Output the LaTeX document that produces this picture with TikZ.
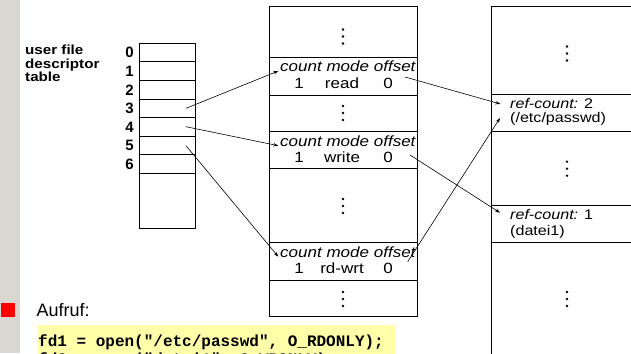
\documentclass[tikz,border=0pt]{standalone}
\usepackage{fontspec}
\setmainfont{Liberation Sans}
\newfontfamily\diafont[FakeStretch=1.15]{Liberation Sans}
\newfontfamily\codefont{Liberation Mono}
\usetikzlibrary{arrows.meta}
\definecolor{barGray}{HTML}{DAD6D2}
\definecolor{codeYellow}{HTML}{FFFFAA}
\definecolor{bulletRed}{HTML}{FF0000}

\tikzset{
  cell/.style={draw=black, line width=0.8pt},
  hdr/.style={anchor=base west, inner sep=0pt, font=\diafont\fontsize{14.8}{16}\selectfont\itshape},
  val/.style={anchor=base, inner sep=0pt, font=\diafont\fontsize{14.8}{16}\selectfont},
  reftxt/.style={anchor=base west, inner sep=0pt, font=\diafont\fontsize{14}{15}\selectfont},
  lbl/.style={anchor=base west, inner sep=0pt, font=\diafont\fontsize{13.2}{13.3}\selectfont\bfseries},
  idx/.style={anchor=center, inner sep=0pt, font=\fontsize{15}{16}\selectfont\bfseries},
  ptr/.style={line width=0.6pt, -{Stealth[length=5pt,width=3.4pt]}},
  threedots/.pic={
    \fill (0,-7) circle (1.3);
    \fill (0,0) circle (1.3);
    \fill (0,7) circle (1.3);
  }
}

\begin{document}
\begin{tikzpicture}[x=1pt,y=-1pt]
\useasboundingbox (0,0) rectangle (631,353);
\clip (0,0) rectangle (631,353);

% side bar and bullet
\fill[barGray] (0,0) rectangle (20,353);
\fill[bulletRed] (1,303.3) rectangle (15,316.7);

% user file descriptor table
\node[lbl] (uft1) at (25,55) {user file};
\node[lbl] (uft2) at (25,68.3) {descriptor};
\node[lbl] (uft3) at (25,81.6) {table};
\draw[cell] (139.3,43.3) rectangle (195,228.3);
\foreach \i in {1,...,7}
  \draw[cell] (139.3,{43.3+18.57*\i}) -- (195,{43.3+18.57*\i});
\foreach \i in {0,...,6}
  \node[idx] (n\i) at (129.5,{52.8+18.57*\i}) {\i};

% file table
\draw[cell] (269.5,6.7) rectangle (417.5,316.7);
\foreach \yy in {57.3,95,131.7,168.3,242.7,280}
  \draw[cell] (269.5,\yy) -- (417.5,\yy);
\pic at (343,36.5) {threedots};
\pic at (343,113) {threedots};
\pic at (343,206) {threedots};
\pic at (343,299) {threedots};

\node[hdr] (h1) at (280,71.7) {count mode offset};
\node[val] (c1) at (299,88.3) {1};
\node[val] (m1) at (342,88.3) {read};
\node[val] (o1) at (388,88.3) {0};

\node[hdr] (h2) at (280,146.1) {count mode offset};
\node[val] (c2) at (299,162.7) {1};
\node[val] (m2) at (342,162.7) {write};
\node[val] (o2) at (388,162.7) {0};

\node[hdr] (h3) at (280,257.1) {count mode offset};
\node[val] (c3) at (299,273.7) {1};
\node[val] (m3) at (342,273.7) {rd-wrt};
\node[val] (o3) at (388,273.7) {0};

% inode table
\draw[cell] (491,400) -- (491,6.7) -- (650,6.7);
\foreach \yy in {94.3,131.7,205.7,242.7}
  \draw[cell] (491,\yy) -- (650,\yy);
\pic at (567,53.5) {threedots};
\pic at (567,168.7) {threedots};
\pic at (567,299) {threedots};

\node[reftxt] (rc1) at (510,108) {\itshape ref-count:\upshape{} 2};
\node[reftxt] (pw)  at (510,122) {(/etc/passwd)};
\node[reftxt] (rc2) at (510,219) {\itshape ref-count:\upshape{} 1};
\node[reftxt] (dt)  at (510,235) {(datei1)};

% pointer ends
\coordinate (fd3) at (186,108.3);
\coordinate (fd4) at (186,126.7);
\coordinate (fd5) at (186,145.7);
\coordinate (e1) at (278.3,71);
\coordinate (e2) at (278.3,145.7);
\coordinate (e3) at (278.3,256.7);
\coordinate (s1) at (405,77);
\coordinate (s2) at (410,155);
\coordinate (s3) at (407.7,261.7);
\coordinate (i1) at (500.5,104);
\coordinate (i2) at (500,212.7);
\coordinate (i3) at (500,118);

\draw[ptr] (fd3) -- (e1);
\draw[ptr] (fd4) -- (e2);
\draw[ptr] (fd5) -- (e3);
\draw[ptr] (s1) -- (i1);
\draw[ptr] (s2) -- (i2);
\draw[ptr] (s3) -- (i3);

% call example
\node[anchor=base west, inner sep=0pt, font=\fontsize{18}{20}\selectfont] (call) at (36.5,316.7) {Aufruf:};
\fill[codeYellow] (37.7,325.3) rectangle (395,370);
\node[anchor=base west, inner sep=0pt, font=\codefont\fontsize{16}{16}\selectfont\bfseries] (code1) at (38,346)
  {fd1 = open("/etc/passwd", O\_RDONLY);};
\node[anchor=base west, inner sep=0pt, font=\codefont\fontsize{16}{16}\selectfont\bfseries] (code2) at (38,364.5)
  {fd2 = open("datei1", O\_WRONLY);};
\end{tikzpicture}
\end{document}
